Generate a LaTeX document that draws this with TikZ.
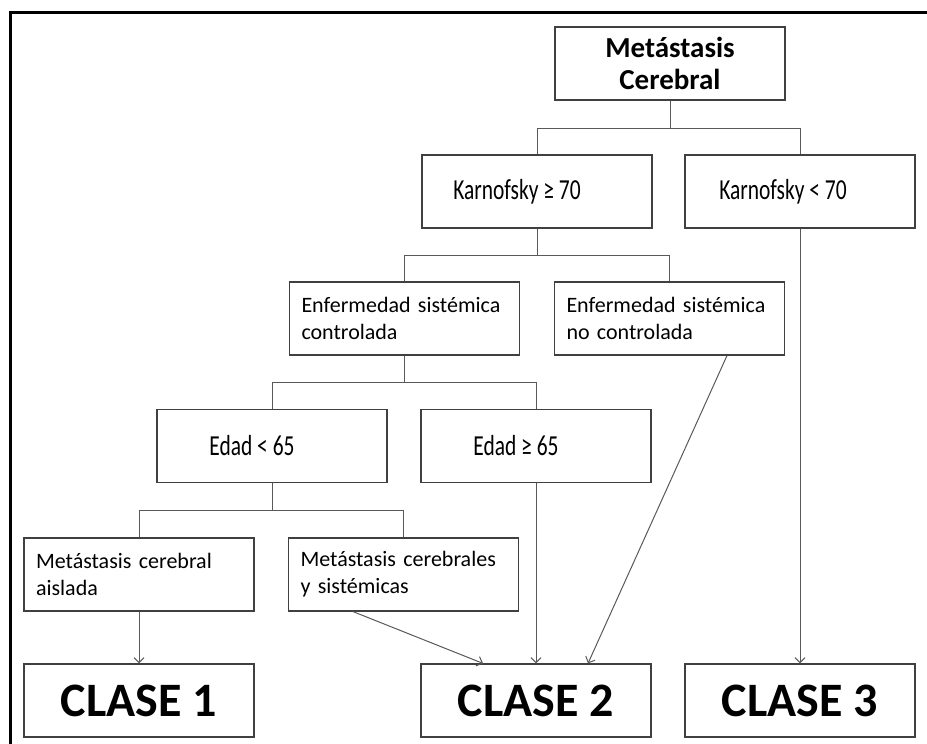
\documentclass[tikz,border=0pt]{standalone}
\usepackage{fontspec}
\setmainfont{Carlito}
\usepackage{graphicx}
\usetikzlibrary{arrows.meta}
\tikzset{
  caja/.style={draw=black!75, line width=1.2pt, minimum width=230pt, minimum height=73pt, inner sep=0pt},
  caja2/.style={caja, text width=206pt, align=left, font=\fontsize{22}{27}\selectfont},
  caja1/.style={caja, font=\fontsize{29}{32}\selectfont},
  clase/.style={caja, font=\bfseries\fontsize{48}{54}\selectfont},
  linea/.style={draw=black!65, line width=1pt},
  flecha/.style={linea, -{Straight Barb[length=5pt,width=10pt]}},
}
\begin{document}
\begin{tikzpicture}[x=1pt, y=-1pt]
\useasboundingbox (0,0) rectangle (927,744);
\draw[line width=3.5pt] (10.5,744) -- (10.5,12.5) -- (927,12.5);
\node[caja, align=center, font=\bfseries\fontsize{29}{32}\selectfont] (meta) at (670,63.5) {Metástasis\\Cerebral};
\node[caja1] (kge) at (537,191.5) {\scalebox{0.74}[1]{Karnofsky ≥ 70}\hspace*{40pt}};
\node[caja1] (klt) at (800,191.5) {\scalebox{0.74}[1]{Karnofsky < 70}\hspace*{34pt}};
\node[caja2] (ectrl) at (404.5,318.5) {Enfermedad sistémica\\controlada};
\node[caja2] (enoc) at (669.5,318.5) {Enfermedad sistémica\\no controlada};
\node[caja1] (edad1) at (272,446) {\scalebox{0.74}[1]{Edad < 65}\hspace*{40pt}};
\node[caja1] (edad2) at (536,446) {\scalebox{0.74}[1]{Edad ≥ 65}\hspace*{40pt}};
\node[caja2] (aisl) at (139,574.5) {Metástasis cerebral\\aislada};
\node[caja2] (mcs) at (403.5,574.5) {Metástasis cerebrales\\y sistémicas};
\node[clase] (c1) at (139,700.5) {CLASE 1};
\node[clase] (c2) at (536,700.5) {CLASE 2};
\node[clase] (c3) at (800,700.5) {CLASE 3};
% ramas
\draw[linea] (meta.south) -- ++(0,27.5) coordinate (j1);
\draw[linea] (kge.north) |- (j1) -| (klt.north);
\draw[linea] (kge.south) -- ++(0,27) coordinate (j2);
\draw[linea] (ectrl.north) |- (j2) -| (enoc.north);
\draw[linea] (ectrl.south) -- ++(0,27) coordinate (j3);
\draw[linea] (edad1.north) |- (j3) -| (edad2.north);
\draw[linea] (edad1.south) -- ++(0,27) coordinate (j4);
\draw[linea] (aisl.north) |- (j4) -| (mcs.north);
% flechas a las clases
\draw[flecha] (aisl) -- (c1);
\draw[flecha] ([xshift=-50.5pt]mcs.south) -- ([xshift=-53pt]c2.north);
\draw[flecha] (edad2) -- (c2);
\draw[flecha] ([xshift=57.5pt]enoc.south) -- ([xshift=52pt]c2.north);
\draw[flecha] (klt) -- (c3);
\end{tikzpicture}
\end{document}
